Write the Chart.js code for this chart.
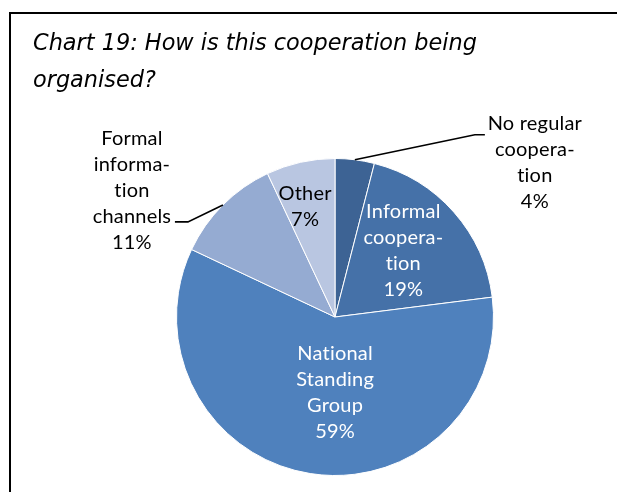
<!DOCTYPE html>
<html>
<head>
<meta charset="utf-8">
<script src="https://cdn.jsdelivr.net/npm/chart.js@4/dist/chart.umd.min.js"></script>
<style>
  html, body { margin: 0; padding: 0; background: #fff; }
  #wrap { width: 617px; height: 492px; }
</style>
</head>
<body>
<div id="wrap"><canvas id="c" width="617" height="492"></canvas></div>
<script>
const titleLines = ['Chart 19: How is this cooperation being', 'organised?'];
const categories = ['No regular cooperation', 'Informal cooperation', 'National Standing Group', 'Formal information channels', 'Other'];
// hyphenated the way the original wraps them
const labelLines = [
  ['No regular', 'coopera-', 'tion'],
  ['Informal', 'coopera-', 'tion'],
  ['National', 'Standing', 'Group'],
  ['Formal', 'informa-', 'tion', 'channels'],
  ['Other']
];
const shares = [4, 19, 59, 11, 7];
const sliceColors = ['#3D6394', '#4571A8', '#4F81BD', '#95ABD2', '#B9C6E1'];

// frame + title
const frameAndTitle = {
  id: 'frameAndTitle',
  beforeDraw(chart) {
    const ctx = chart.ctx;
    ctx.save();
    ctx.strokeStyle = '#000';
    ctx.lineWidth = 2;
    ctx.beginPath();
    ctx.moveTo(617, 13);
    ctx.lineTo(10, 13);
    ctx.lineTo(10, 492);
    ctx.stroke();
    ctx.fillStyle = '#000';
    ctx.font = 'italic 22.4px "DejaVu Sans"';
    ctx.textBaseline = 'alphabetic';
    ctx.fillText(titleLines[0], 33, 50);
    ctx.fillText(titleLines[1], 33, 87);
    ctx.restore();
  }
};

const sliceLabels = {
  id: 'sliceLabels',
  afterDatasetsDraw(chart, args, opts) {
    const ctx = chart.ctx;
    const meta = chart.getDatasetMeta(0);
    const lh = opts.lineHeight;
    ctx.save();
    ctx.font = opts.font;
    ctx.letterSpacing = '0.2px'; // keeps Lato from joining "ti"
    ctx.textAlign = 'center';
    ctx.textBaseline = 'middle';
    meta.data.forEach((arc, i) => {
      const p = arc.getProps(['x', 'y', 'startAngle', 'endAngle', 'outerRadius']);
      const mid = (p.startAngle + p.endAngle) / 2;
      const lines = labelLines[i].concat([shares[i] + '%']);
      const lp = opts.place[i];
      let cx, cy;
      if (lp.inside) {
        cx = p.x + Math.cos(mid) * p.outerRadius * lp.r + lp.dx;
        cy = p.y + Math.sin(mid) * p.outerRadius * lp.r + lp.dy;
      } else {
        const ex = p.x + Math.cos(mid) * p.outerRadius;
        const ey = p.y + Math.sin(mid) * p.outerRadius;
        const bx = ex + lp.elbow[0], by = ey + lp.elbow[1];
        const hx = bx + lp.tail;
        ctx.strokeStyle = '#000';
        ctx.lineWidth = 1.6;
        ctx.beginPath();
        ctx.moveTo(ex, ey);
        ctx.lineTo(bx, by);
        ctx.lineTo(hx, by);
        ctx.stroke();
        cx = hx + lp.text[0];
        cy = by + lp.text[1];
      }
      ctx.fillStyle = lp.color;
      lines.forEach((t, k) => ctx.fillText(t, cx, cy + (k - (lines.length - 1) / 2) * lh));
    });
    ctx.restore();
  }
};

new Chart(document.getElementById('c'), {
  type: 'pie',
  data: {
    labels: categories,
    datasets: [{
      data: shares,
      backgroundColor: sliceColors,
      borderColor: '#fff',
      borderWidth: 1
    }]
  },
  options: {
    responsive: false,
    animation: false,
    devicePixelRatio: 1,
    layout: { padding: { top: 158, bottom: 16, left: 176, right: 123 } },
    plugins: {
      legend: { display: false },
      tooltip: { enabled: false },
      sliceLabels: {
        font: '20px Lato',
        lineHeight: 26,
        place: [
          { inside: false, elbow: [120, -25], tail: 10, text: [50, 28], color: '#000' },
          { inside: true, r: 0.6, dx: -3, dy: -4, color: '#fff' },
          { inside: true, r: 0.48, dx: 12, dy: 0, color: '#fff' },
          { inside: false, elbow: [-35, 17], tail: -13, text: [-43, -31], color: '#000' },
          { inside: true, r: 0.72, dx: -5, dy: 1, color: '#000' }
        ]
      }
    }
  },
  plugins: [frameAndTitle, sliceLabels]
});
</script>
</body>
</html>
